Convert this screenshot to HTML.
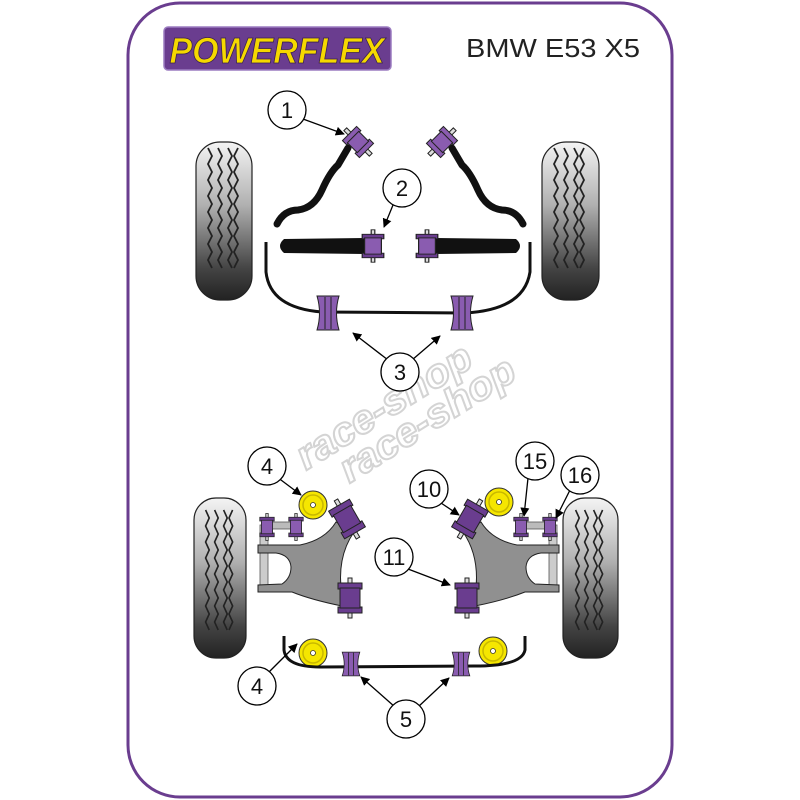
<!DOCTYPE html>
<html><head><meta charset="utf-8"><style>
html,body{margin:0;padding:0;background:#fff;width:800px;height:800px;overflow:hidden}
svg{display:block}
text{font-family:"Liberation Sans",sans-serif}
</style></head><body>
<svg width="800" height="800" viewBox="0 0 800 800" xmlns="http://www.w3.org/2000/svg">
<defs>
<linearGradient id="tyre" x1="0" y1="0" x2="0" y2="1">
<stop offset="0" stop-color="#f4f4f4"/><stop offset="0.4" stop-color="#b0b0b0"/><stop offset="0.8" stop-color="#444"/><stop offset="1" stop-color="#222"/>
</linearGradient>
<marker id="ar" viewBox="0 0 10 10" refX="9" refY="5" markerWidth="7" markerHeight="7" orient="auto"><path d="M0,0 L10,5 L0,10 z" fill="#000"/></marker>
<g id="tread" fill="none" stroke="#222" stroke-width="1.8">
<path d="M-16,-62 l4,8 -4,8 4,8 -4,8 4,8 -4,8 4,8 -4,8 4,8 -4,8 4,8 -4,8 4,8 -4,8 4,8"/>
<path d="M-6,-62 l4,8 -4,8 4,8 -4,8 4,8 -4,8 4,8 -4,8 4,8 -4,8 4,8 -4,8 4,8 -4,8 4,8"/>
<path d="M4,-62 l4,8 -4,8 4,8 -4,8 4,8 -4,8 4,8 -4,8 4,8 -4,8 4,8 -4,8 4,8 -4,8 4,8"/>
<path d="M14,-62 l-4,8 4,8 -4,8 4,8 -4,8 4,8 -4,8 4,8 -4,8 4,8 -4,8 4,8 -4,8 4,8 -4,8"/>
</g>
<g id="bush" stroke="#222" stroke-width="1">
<rect x="-1.5" y="-18" width="3" height="36" fill="#ddd"/>
<rect x="-9" y="-13" width="18" height="5" fill="#6a3d8f"/>
<rect x="-9" y="8" width="18" height="5" fill="#6a3d8f"/>
<rect x="-7" y="-9" width="14" height="18" fill="#8a5cb0"/>
</g>
<g id="sbush" stroke="#222" stroke-width="1">
<path d="M-11,-17 L11,-17 Q6,0 11,17 L-11,17 Q-6,0 -11,-17 z" fill="#8a5cb0"/>
<line x1="-3" y1="-16" x2="-3" y2="16"/><line x1="3" y1="-16" x2="3" y2="16"/>
</g>
<g id="yel"><circle r="14" fill="#f5e600" stroke="#333" stroke-width="1"/><circle r="10" fill="none" stroke="#c8b800" stroke-width="1.5"/><circle r="2.5" fill="#fff" stroke="#333" stroke-width="0.8"/></g>
<g id="arm">
<rect x="260" y="525" width="8" height="62" fill="#ccc" stroke="#555" stroke-width="0.8"/>
<path d="M258,545 L300,545 Q325,540 336,522 L354,532 Q336,558 342,596 L342,606 Q312,600 292,592 L258,592 L258,585 L282,584 Q291,578 291,567 Q290,555 276,553 L258,553 Z" fill="#909090" stroke="#222" stroke-width="1"/>
<rect x="270" y="522" width="24" height="7" fill="#bbb" stroke="#555" stroke-width="0.8"/>
<use href="#bush" transform="translate(267,527) scale(0.8,0.75)"/>
<use href="#bush" transform="translate(296,527) scale(0.8,0.75)"/>
<g transform="translate(347,519) rotate(-30)"><rect x="-2" y="-22" width="4" height="44" fill="#ddd" stroke="#222"/><rect x="-12" y="-16" width="24" height="7" fill="#6a3d8f" stroke="#222"/><rect x="-12" y="9" width="24" height="7" fill="#6a3d8f" stroke="#222"/><rect x="-10" y="-10" width="20" height="20" fill="#6a3d8f" stroke="#222"/></g>
<g transform="translate(350,598)"><rect x="-2" y="-20" width="4" height="40" fill="#ddd" stroke="#222"/><rect x="-12" y="-15" width="24" height="6" fill="#6a3d8f" stroke="#222"/><rect x="-12" y="9" width="24" height="6" fill="#6a3d8f" stroke="#222"/><rect x="-10" y="-10" width="20" height="20" fill="#6a3d8f" stroke="#222"/></g>
</g>
</defs>

<rect x="128" y="3" width="544" height="794" rx="52" fill="#fff" stroke="#6a3d8f" stroke-width="3"/>

<!-- logo -->
<rect x="164" y="27" width="227" height="43" rx="4" fill="#6a3d8f" stroke="#9b7cc0" stroke-width="1.5"/>
<text x="277" y="63" text-anchor="middle" font-size="36" font-weight="bold" font-style="italic" fill="#f5d800" textLength="215" lengthAdjust="spacingAndGlyphs" stroke="#3a2050" stroke-width="0.8">POWERFLEX</text>
<text x="466" y="57" font-size="26" fill="#222" textLength="174" lengthAdjust="spacingAndGlyphs">BMW E53 X5</text>

<!-- watermark -->
<g transform="translate(395,415) rotate(-32)" fill="none" stroke="#d4d4d4" stroke-width="2" font-style="italic" font-weight="bold" font-size="40">
<text x="-105" y="0" textLength="200" lengthAdjust="spacingAndGlyphs">race-shop</text><text x="-75" y="34" textLength="200" lengthAdjust="spacingAndGlyphs">race-shop</text></g>

<!-- top tyres -->
<rect x="196" y="142" width="56" height="158" rx="24" fill="url(#tyre)" stroke="#222" stroke-width="1.2"/>
<use href="#tread" transform="translate(224,210)"/>
<rect x="542" y="142" width="57" height="158" rx="24" fill="url(#tyre)" stroke="#222" stroke-width="1.2"/>
<use href="#tread" transform="translate(570,210)"/>

<!-- top sway links -->
<path d="M277,224 Q284,210 298,210 Q314,208 322,190 Q330,172 338,165 L348,148" fill="none" stroke="#111" stroke-width="7" stroke-linecap="round"/>
<path d="M523,224 Q516,210 502,210 Q486,208 478,190 Q470,172 462,165 L452,148" fill="none" stroke="#111" stroke-width="7" stroke-linecap="round"/>
<g transform="translate(358,142) rotate(-45)"><rect x="-2" y="-18" width="4" height="36" fill="#ddd" stroke="#222"/><rect x="-10" y="-12" width="20" height="6" fill="#8a5cb0" stroke="#222"/><rect x="-10" y="6" width="20" height="6" fill="#8a5cb0" stroke="#222"/><rect x="-8" y="-7" width="16" height="14" fill="#8a5cb0" stroke="#222"/></g>
<g transform="translate(442,142) rotate(45)"><rect x="-2" y="-18" width="4" height="36" fill="#ddd" stroke="#222"/><rect x="-10" y="-12" width="20" height="6" fill="#8a5cb0" stroke="#222"/><rect x="-10" y="6" width="20" height="6" fill="#8a5cb0" stroke="#222"/><rect x="-8" y="-7" width="16" height="14" fill="#8a5cb0" stroke="#222"/></g>

<!-- tie bars -->
<path d="M284,239 Q276,246 284,253 L364,254 L364,238 Z" fill="#111"/>
<path d="M516,239 Q524,246 516,253 L436,254 L436,238 Z" fill="#111"/>
<use href="#bush" transform="translate(373,246) scale(1.2,0.9)"/>
<use href="#bush" transform="translate(427,246) scale(1.2,0.9)"/>

<!-- top ARB -->
<path d="M266,242 L266,272 Q270,308 322,312 L465,313 Q524,310 530,272 L530,242" fill="none" stroke="#111" stroke-width="3"/>
<use href="#sbush" transform="translate(328,313)"/>
<use href="#sbush" transform="translate(462,313)"/>

<!-- bottom tyres -->
<rect x="194" y="498" width="52" height="160" rx="22" fill="url(#tyre)" stroke="#222" stroke-width="1.2"/>
<use href="#tread" transform="translate(220,572) scale(0.9,1)"/>
<rect x="563" y="498" width="55" height="160" rx="22" fill="url(#tyre)" stroke="#222" stroke-width="1.2"/>
<use href="#tread" transform="translate(590,572) scale(0.9,1)"/>

<use href="#arm"/>
<use href="#arm" transform="translate(817,0) scale(-1,1)"/>

<use href="#yel" transform="translate(313,505)"/>
<use href="#yel" transform="translate(499,502)"/>
<use href="#yel" transform="translate(313,653)"/>
<use href="#yel" transform="translate(493,651)"/>

<!-- bottom ARB -->
<path d="M284,636 L284,650 Q286,667 320,667 L475,666 Q522,666 525,650 L525,636" fill="none" stroke="#111" stroke-width="3"/>
<use href="#sbush" transform="translate(351,664) scale(0.8,0.7)"/>
<use href="#sbush" transform="translate(461,664) scale(0.8,0.7)"/>

<!-- arrows -->
<g stroke="#000" stroke-width="1.3" marker-end="url(#ar)">
<line x1="303" y1="119" x2="344" y2="134"/>
<line x1="393" y1="205" x2="384" y2="227"/>
<line x1="388" y1="360" x2="353" y2="333"/>
<line x1="412" y1="360" x2="440" y2="336"/>
<line x1="273" y1="474" x2="301" y2="495"/>
<line x1="441" y1="503" x2="459" y2="515"/>
<line x1="408" y1="569" x2="450" y2="585"/>
<line x1="528" y1="478" x2="524" y2="516"/>
<line x1="570" y1="490" x2="556" y2="518"/>
<line x1="268" y1="673" x2="297" y2="644"/>
<line x1="395" y1="707" x2="361" y2="677"/>
<line x1="418" y1="707" x2="449" y2="678"/>
</g>

<g fill="#fff" stroke="#000" stroke-width="1.3">
<circle cx="287" cy="110" r="19"/><circle cx="402" cy="188" r="19"/><circle cx="400" cy="372" r="19"/>
<circle cx="267" cy="466" r="19"/><circle cx="429" cy="489" r="19"/><circle cx="394" cy="557" r="19"/>
<circle cx="535" cy="461" r="19"/><circle cx="580" cy="475" r="19"/><circle cx="257" cy="686" r="19"/><circle cx="406" cy="719" r="19"/>
</g>
<g font-size="22" text-anchor="middle" fill="#111">
<text x="287" y="118">1</text><text x="402" y="196">2</text><text x="400" y="380">3</text>
<text x="267" y="474">4</text><text x="429" y="497">10</text><text x="394" y="565">11</text>
<text x="535" y="469">15</text><text x="580" y="483">16</text><text x="257" y="694">4</text><text x="406" y="727">5</text>
</g>
</svg>
</body></html>
